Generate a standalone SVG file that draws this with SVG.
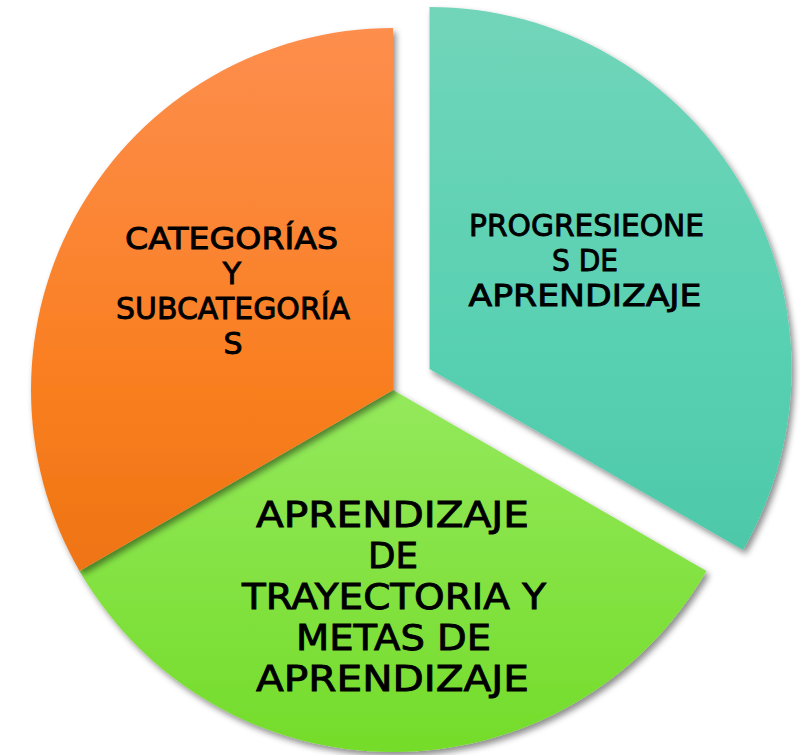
<svg xmlns="http://www.w3.org/2000/svg" width="800" height="755" viewBox="0 0 800 755">
  <defs>
    <linearGradient id="gOrange" gradientUnits="userSpaceOnUse" x1="0" y1="28" x2="0" y2="752">
      <stop offset="0" stop-color="#fd8e4d"/>
      <stop offset="0.5" stop-color="#f97e1f"/>
      <stop offset="1" stop-color="#e36a08"/>
    </linearGradient>
    <linearGradient id="gGreen" gradientUnits="userSpaceOnUse" x1="0" y1="28" x2="0" y2="752">
      <stop offset="0" stop-color="#a3ec74"/>
      <stop offset="0.5" stop-color="#94e95c"/>
      <stop offset="1" stop-color="#74dc2a"/>
    </linearGradient>
    <linearGradient id="gTeal" gradientUnits="userSpaceOnUse" x1="0" y1="7" x2="0" y2="731">
      <stop offset="0" stop-color="#72d5ba"/>
      <stop offset="0.5" stop-color="#56d0b1"/>
      <stop offset="1" stop-color="#45c1a0"/>
    </linearGradient>
    <filter id="shadow" x="-10%" y="-10%" width="125%" height="125%">
      <feGaussianBlur in="SourceAlpha" stdDeviation="3"/>
      <feOffset dx="3" dy="4" result="b"/>
      <feFlood flood-color="#000" flood-opacity="0.45"/>
      <feComposite in2="b" operator="in"/>
      <feMerge>
        <feMergeNode/>
        <feMergeNode in="SourceGraphic"/>
      </feMerge>
    </filter>
  </defs>
  <style>
    .lbl { font-family: "DejaVu Sans", "Liberation Sans", sans-serif; fill: #000; text-anchor: middle; stroke: #000; stroke-width: 0.9; }
    .s30 { font-size: 30px; }
    .s36 { font-size: 36px; }
  </style>
  <rect width="800" height="755" fill="#fff"/>
  <g id="connectors"/>
  <g id="node-green">
    <path d="M393,390 L79.5,571 A362,362 0 0,0 706.5,571 Z" fill="url(#gGreen)" filter="url(#shadow)"/>
    <text class="lbl s36" x="392.5" y="527" textLength="273" lengthAdjust="spacingAndGlyphs">APRENDIZAJE</text>
    <text class="lbl s36" x="393" y="568" textLength="50" lengthAdjust="spacingAndGlyphs">DE</text>
    <text class="lbl s36" x="394" y="609" textLength="304" lengthAdjust="spacingAndGlyphs">TRAYECTORIA Y</text>
    <text class="lbl s36" x="393.5" y="650" textLength="195" lengthAdjust="spacingAndGlyphs">METAS DE</text>
    <text class="lbl s36" x="392.5" y="691" textLength="273" lengthAdjust="spacingAndGlyphs">APRENDIZAJE</text>
  </g>
  <g id="node-orange">
    <path d="M393,390 L393,28 A362,362 0 0,0 79.5,571 Z" fill="url(#gOrange)" filter="url(#shadow)"/>
    <text class="lbl s30" x="231.5" y="249" textLength="213" lengthAdjust="spacingAndGlyphs">CATEGORÍAS</text>
    <text class="lbl s30" x="232" y="284">Y</text>
    <text class="lbl s30" x="233" y="319" textLength="234" lengthAdjust="spacingAndGlyphs">SUBCATEGORÍA</text>
    <text class="lbl s30" x="233" y="354">S</text>
  </g>
  <g id="node-teal">
    <path d="M429.5,369 L429.5,7 A362,362 0 0,1 743,550 Z" fill="url(#gTeal)" filter="url(#shadow)"/>
    <text class="lbl s30" x="586.5" y="236" textLength="235" lengthAdjust="spacingAndGlyphs">PROGRESIEONE</text>
    <text class="lbl s30" x="585" y="271" textLength="66" lengthAdjust="spacingAndGlyphs">S DE</text>
    <text class="lbl s30" x="585" y="306" textLength="233" lengthAdjust="spacingAndGlyphs">APRENDIZAJE</text>
  </g>
</svg>
